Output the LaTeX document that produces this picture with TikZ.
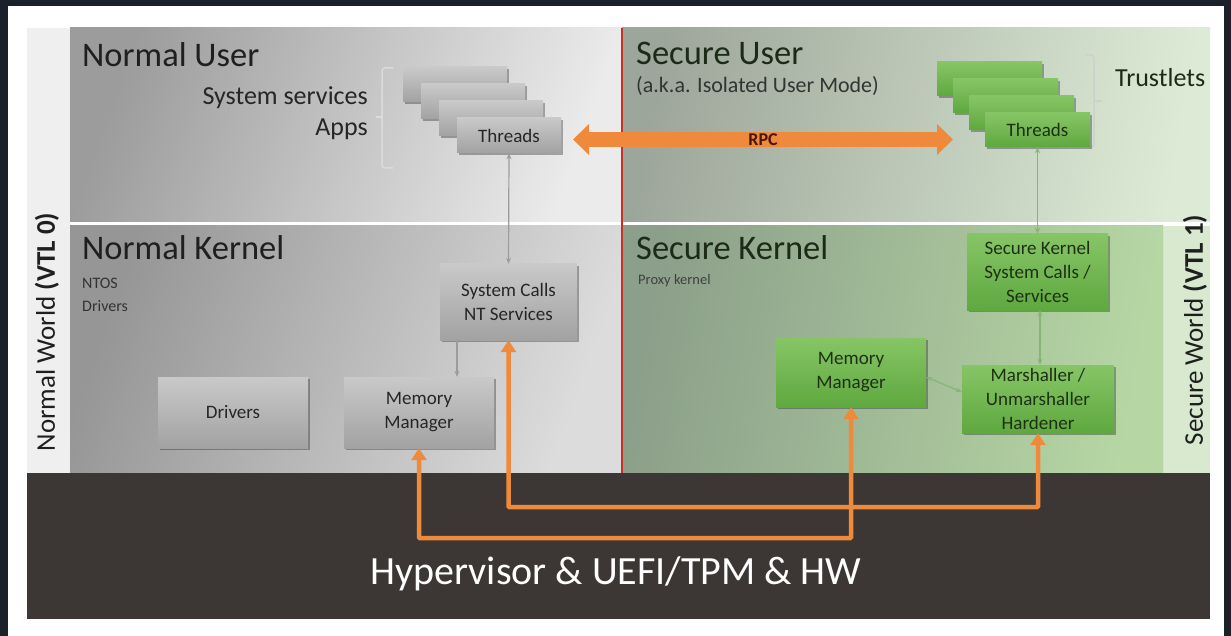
\documentclass[tikz,border=0pt]{standalone}
\usepackage{fontspec}
\setmainfont{Carlito}
\usetikzlibrary{arrows.meta,shadows}
\definecolor{frame}{HTML}{1A212B}
\definecolor{lstrip}{HTML}{EFEFEF}
\definecolor{rstrip}{HTML}{D8E9D0}
\definecolor{nuL}{HTML}{9C9C9C}
\definecolor{nuR}{HTML}{EBEBEB}
\definecolor{nkL}{HTML}{969696}
\definecolor{nkR}{HTML}{DCDCDC}
\definecolor{suL}{HTML}{9DA69A}
\definecolor{suR}{HTML}{DDEBD6}
\definecolor{skL}{HTML}{8C9F8A}
\definecolor{skR}{HTML}{B6D7A4}
\definecolor{hyp}{HTML}{3C3735}
\definecolor{redline}{HTML}{C8302A}
\definecolor{gtop}{HTML}{C9C9C9}
\definecolor{gbot}{HTML}{A2A2A2}
\definecolor{grtop}{HTML}{86C566}
\definecolor{grbot}{HTML}{5FA83F}
\definecolor{grtext}{HTML}{1E3014}
\definecolor{sectitle}{HTML}{1C2A18}
\definecolor{orng}{HTML}{EF8A3C}
\definecolor{rpctext}{HTML}{4A1508}
\definecolor{gline}{HTML}{9C9C9C}
\definecolor{grline}{HTML}{86B574}
\tikzset{
  boxbase/.style={rectangle, inner sep=0pt, align=center,
    drop shadow={shadow xshift=1.5pt, shadow yshift=-2pt, opacity=0.3, fill=black}},
  graybox/.style={boxbase, top color=gtop, bottom color=gbot, text=black!85,
    font=\fontsize{19}{24}\selectfont},
  greenbox/.style={boxbase, top color=grtop, bottom color=grbot, text=grtext,
    font=\fontsize{19}{24}\selectfont},
  title/.style={inner sep=0pt, font=\fontsize{34.5}{40}\selectfont, text=black!88},
  smalltxt/.style={inner sep=0pt, font=\fontsize{16}{20}\selectfont, text=black!80},
  midtxt/.style={inner sep=0pt, font=\fontsize{26}{30}\selectfont, text=black!85},
  thinarrow/.style={line width=1.2pt, {Stealth[length=6pt,width=5pt]}-{Stealth[length=6pt,width=5pt]}},
  orangeline/.style={draw=orng, line width=4.5pt, rounded corners=1pt,
    {Triangle[length=12pt,width=15pt]}-{Triangle[length=12pt,width=15pt]}},
  bracketline/.style={line width=1.5pt, rounded corners=3pt},
}
\begin{document}
\begin{tikzpicture}[x=1pt,y=-1pt]
\useasboundingbox (0,0) rectangle (1231,636);
% frame and background
\fill[frame] (0,0) rectangle (1231,636);
\fill[white] (8,6) rectangle (1224,636);
\fill[lstrip] (27,28) rectangle (70,473);
\fill[rstrip] (1163,226) rectangle (1210,473);
% panels
\shade[left color=nuL, right color=nuR, shading angle=70] (70,28) rectangle (622,222);
\shade[left color=nkL, right color=nkR, shading angle=70] (70,226) rectangle (622,473);
\shade[left color=suL, right color=suR, shading angle=80] (622,28) rectangle (1210,222);
\shade[left color=skL, right color=skR, shading angle=80] (622,226) rectangle (1163,473);
\draw[redline, line width=2.5pt] (622,28) -- (622,473);
% hypervisor
\fill[hyp] (27,473) rectangle (1210,619);
\node[inner sep=0pt, anchor=base, text=white, font=\fontsize{40}{46}\selectfont] (hyptxt) at (616,584) {Hypervisor \& UEFI/TPM \& HW};
% side labels
\node[inner sep=0pt, rotate=90, font=\fontsize{27}{32}\selectfont, text=black!88] (nw) at (47,332) {Normal World \textbf{(VTL 0)}};
\node[inner sep=0pt, rotate=90, font=\fontsize{27}{32}\selectfont, text=black!88] (sw) at (1195,330) {Secure World \textbf{(VTL 1)}};
% titles
\node[title, anchor=base west] (nut) at (82,67) {Normal User};
\node[title, anchor=base west] (nkt) at (82,260) {Normal Kernel};
\node[title, anchor=base west, text=sectitle] (sut) at (636,65) {Secure User};
\node[title, anchor=base west, text=sectitle] (skt) at (636,260) {Secure Kernel};
\node[smalltxt, anchor=base west] (ntos) at (82,289) {NTOS};
\node[smalltxt, anchor=base west] (ndrv) at (82,311) {Drivers};
\node[inner sep=0pt, anchor=base west, font=\fontsize{14.5}{18}\selectfont, text=black!75] (proxy) at (638,285) {Proxy kernel};
\node[inner sep=0pt, anchor=base west, font=\fontsize{22}{26}\selectfont, text=black!80] (aka) at (636,93) {(a.k.a. Isolated User Mode)};
\node[midtxt, anchor=base east] (syss) at (368,105) {System services};
\node[midtxt, anchor=base east] (apps) at (368,136) {Apps};
\node[midtxt, anchor=base west, text=sectitle] (trust) at (1115,87) {Trustlets};
% brackets
\draw[bracketline, draw=black!14] (393,68) -- (382,68) -- (382,168) -- (393,168);
\draw[line width=1.5pt, draw=black!14] (382,117) -- (376,117);
\draw[bracketline, draw=green!10!black!20] (1085,55) -- (1094,55) -- (1094,147) -- (1085,147);
\draw[line width=1.5pt, draw=green!10!black!20] (1094,101) -- (1102,101);
% normal thread stack
\node[graybox, minimum width=104pt, minimum height=35pt] (nthrA) at (455,84.5) {};
\node[graybox, minimum width=104pt, minimum height=35pt] (nthrB) at (473,101.5) {};
\node[graybox, minimum width=104pt, minimum height=35pt] (nthrC) at (491,118.5) {};
\node[graybox, minimum width=104pt, minimum height=35pt] (nthr) at (509,135.5) {Threads};
% secure thread stack
\node[greenbox, minimum width=105pt, minimum height=34pt] (sthrA) at (989.5,79) {};
\node[greenbox, minimum width=105pt, minimum height=34pt] (sthrB) at (1005.5,96) {};
\node[greenbox, minimum width=105pt, minimum height=34pt] (sthrC) at (1021.5,113) {};
\node[greenbox, minimum width=105pt, minimum height=34pt] (sthr) at (1037.5,130) {Threads};
% kernel boxes
\node[graybox, minimum width=137pt, minimum height=76pt] (syscalls) at (508.5,302) {System Calls\\NT Services};
\node[graybox, minimum width=150pt, minimum height=71pt] (drivers) at (233,412.5) {Drivers};
\node[graybox, minimum width=150pt, minimum height=71pt] (nmm) at (419,412.5) {Memory\\Manager};
\node[greenbox, minimum width=141pt, minimum height=76pt] (skcalls) at (1037.5,272) {Secure Kernel\\System Calls /\\Services};
\node[greenbox, minimum width=150pt, minimum height=69pt] (smm) at (851,372.5) {Memory\\Manager};
\node[greenbox, minimum width=152pt, minimum height=68pt] (marsh) at (1038,399) {Marshaller /\\Unmarshaller\\Hardener};
% thin connectors
\draw[thinarrow, draw=gline] (nthr.south) -- (syscalls.north);
\draw[line width=1.2pt, draw=gline, -{Stealth[length=6pt,width=5pt]}] (syscalls.south -| 457,0) -- (nmm.north -| 457,0);
\draw[thinarrow, draw=grline] (sthr.south -| skcalls.north) -- (skcalls.north);
\draw[thinarrow, draw=grline] (skcalls.south -| 1040,0) -- (marsh.north -| 1040,0);
\draw[thinarrow, draw=grline] (smm.east |- 0,377) -- (marsh.west |- 0,392);
% RPC arrow
\coordinate (rpcL) at (573,139.5);
\coordinate (rpcR) at (953,139.5);
\draw[draw=orng, line width=15pt, {Triangle[length=16pt,width=30pt]}-{Triangle[length=16pt,width=30pt]}] (rpcL) -- (rpcR);
\node[inner sep=0pt, font=\bfseries\fontsize{18}{20}\selectfont, text=rpctext] (rpc) at (763,140) {RPC};
% orange hypervisor routes
\draw[orangeline] (syscalls.south) -- ++(0,167) -| (marsh.south);
\draw[orangeline] (nmm.south) -- ++(0,90) -| (smm.south);
\end{tikzpicture}
\end{document}
